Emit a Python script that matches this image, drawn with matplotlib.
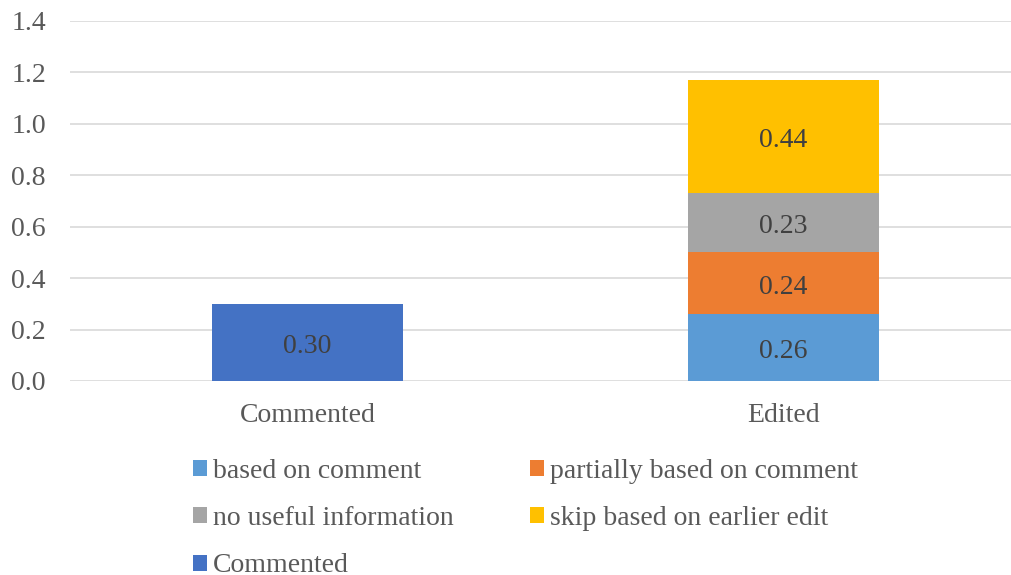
import matplotlib.pyplot as plt
import matplotlib.transforms as mtransforms
import numpy as np

plt.rcParams["font.family"] = ["Liberation Serif", "DejaVu Serif"]

categories = ["Commented", "Edited"]
commented = [0.30, 0.0]
based_on_comment = [0.0, 0.26]
partially_based = [0.0, 0.24]
no_useful_info = [0.0, 0.23]
skip_earlier_edit = [0.0, 0.44]
y_ticks = [0.0, 0.2, 0.4, 0.6, 0.8, 1.0, 1.2, 1.4]

W, H = 1012, 575
fig = plt.figure(figsize=(W / 100, H / 100), dpi=100)
ax = fig.add_axes([69.5 / W, 1 - 381 / H, 952 / W, 360 / H])

x = np.arange(len(categories))
bw = 0.4
fs = 20
txt_col = "#404040"
tick_col = "#595959"
# value labels sit a touch below the segment centre, as in the original
lbl_tr = mtransforms.offset_copy(ax.transData, fig=fig, x=0, y=-4, units="dots")

series = [
    ("based on comment", based_on_comment, "#5B9BD5"),
    ("partially based on comment", partially_based, "#ED7D31"),
    ("no useful information", no_useful_info, "#A5A5A5"),
    ("skip based on earlier edit", skip_earlier_edit, "#FFC000"),
]

handles = {}
bottom = np.zeros(len(categories))
for name, vals, col in series:
    vals = np.array(vals)
    b = ax.bar(x, vals, bw, bottom=bottom, color=col, label=name, zorder=2)
    handles[name] = b
    for xi, v, bt in zip(x, vals, bottom):
        if v > 0:
            ax.text(xi, bt + v / 2, f"{v:.2f}", ha="center", va="center",
                    fontsize=fs, color=txt_col, zorder=3, transform=lbl_tr)
    bottom += vals

b = ax.bar(x, commented, bw, color="#4472C4", label="Commented", zorder=2)
handles["Commented"] = b
for xi, v in zip(x, commented):
    if v > 0:
        ax.text(xi, v / 2, f"{v:.2f}", ha="center", va="center",
                fontsize=fs, color=txt_col, zorder=3, transform=lbl_tr)

ax.set_xlim(-0.5, 1.5)
ax.set_ylim(0, 1.4)
ax.set_yticks(y_ticks)
ax.set_yticklabels([f"{t:.1f}" for t in y_ticks])
ax.set_xticks(x)
ax.set_xticklabels(categories)
ax.tick_params(axis="both", length=0, labelsize=fs, colors=tick_col)
ax.tick_params(axis="y", pad=17)
ax.tick_params(axis="x", pad=16)
ax.grid(axis="y", color="#D9D9D9", lw=1.2, zorder=0)
for s in ax.spines.values():
    s.set_visible(False)

# column-major fill so rows read left-to-right like the original
order = ["based on comment", "no useful information", "Commented",
         "partially based on comment", "skip based on earlier edit"]
leg = fig.legend([handles[k] for k in order], order, ncol=2,
                 loc="upper left", bbox_to_anchor=(193 / W, 1 - 459 / H),
                 frameon=False, fontsize=fs, handlelength=0.5,
                 handleheight=0.5, handletextpad=0.22, columnspacing=2.75,
                 labelspacing=0.80, borderpad=0, borderaxespad=0)
for t in leg.get_texts():
    t.set_color(tick_col)

fig.savefig("out.png", dpi=100)
